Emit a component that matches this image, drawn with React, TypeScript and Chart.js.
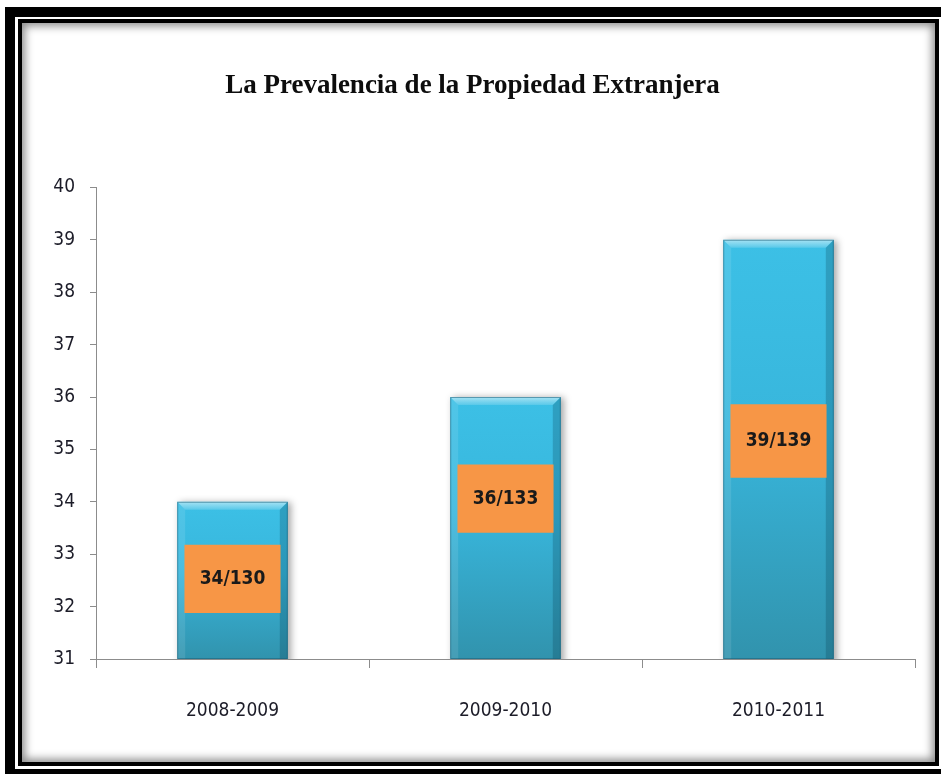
import React, { useEffect, useRef } from "react";
import { Chart, registerables } from "chart.js";

Chart.register(...registerables);

const categories = ["2008-2009", "2009-2010", "2010-2011"];
const prevalence = [34, 36, 39];
const labelTexts = ["34/130", "36/133", "39/139"];
const labelBoxes: [number, number][] = [
  [31.88, 33.18],
  [33.41, 34.71],
  [34.46, 35.86],
];
const yTicks = [31, 32, 33, 34, 35, 36, 37, 38, 39, 40];

const TITLE = "La Prevalencia de la Propiedad Extranjera";
const SANS = "'Liberation Sans Narrow', 'DejaVu Sans Condensed', 'Open Sans', sans-serif";
const SERIF = "'Liberation Serif', serif";

const shadowBevel = {
  id: "shadowBevel",
  beforeDatasetDraw(chart: any, args: any) {
    if (args.index !== 0) return;
    const ctx = chart.ctx;
    ctx.save();
    ctx.shadowColor = "rgba(0,0,0,0.35)";
    ctx.shadowBlur = 7;
    ctx.shadowOffsetX = 3;
    ctx.shadowOffsetY = 0;
  },
  afterDatasetDraw(chart: any, args: any) {
    if (args.index !== 0) return;
    const ctx = chart.ctx;
    ctx.restore();
    const area = chart.chartArea;
    const meta = chart.getDatasetMeta(0);
    meta.data.forEach((el: any) => {
      const w = el.width;
      const l = el.x - w / 2;
      const r = el.x + w / 2;
      const t = el.y;
      const b = Math.min(el.base, area.bottom);
      if (![l, r, t, b].every(Number.isFinite)) return;
      const bv = 8;
      ctx.save();
      const g = ctx.createLinearGradient(0, t, 0, t + bv);
      g.addColorStop(0, "rgba(255,255,255,0.55)");
      g.addColorStop(1, "rgba(255,255,255,0.15)");
      ctx.fillStyle = g;
      ctx.beginPath();
      ctx.moveTo(l, t);
      ctx.lineTo(r, t);
      ctx.lineTo(r - bv, t + bv);
      ctx.lineTo(l + bv, t + bv);
      ctx.closePath();
      ctx.fill();
      ctx.fillStyle = "rgba(255,255,255,0.10)";
      ctx.beginPath();
      ctx.moveTo(l, t);
      ctx.lineTo(l + bv, t + bv);
      ctx.lineTo(l + bv, b);
      ctx.lineTo(l, b);
      ctx.closePath();
      ctx.fill();
      ctx.fillStyle = "rgba(0,45,65,0.22)";
      ctx.beginPath();
      ctx.moveTo(r, t);
      ctx.lineTo(r - bv, t + bv);
      ctx.lineTo(r - bv, b);
      ctx.lineTo(r, b);
      ctx.closePath();
      ctx.fill();
      ctx.strokeStyle = "rgba(25,95,120,0.55)";
      ctx.lineWidth = 1;
      ctx.strokeRect(l + 0.5, t + 0.5, w - 1, b - t - 1);
      ctx.restore();
    });
  },
  afterDatasetsDraw(chart: any) {
    const ctx = chart.ctx;
    const meta = chart.getDatasetMeta(1);
    ctx.save();
    ctx.font = `bold 19px ${SANS}`;
    ctx.fillStyle = "#1a1a1a";
    ctx.textAlign = "center";
    ctx.textBaseline = "middle";
    meta.data.forEach((el: any, i: number) => {
      ctx.fillText(labelTexts[i], el.x, (el.y + el.base) / 2);
    });
    ctx.restore();
  },
};

export default function App() {
  const ref = useRef<HTMLCanvasElement | null>(null);

  useEffect(() => {
    if (!ref.current) return;
    const chart = new Chart(ref.current, {
      type: "bar",
      data: {
        labels: categories,
        datasets: [
          {
            label: "Prevalencia",
            data: prevalence,
            order: 2,
            grouped: false,
            barPercentage: 0.405,
            categoryPercentage: 1,
            backgroundColor: (c: any) => {
              const chartRef = c.chart;
              const ys = chartRef.scales && chartRef.scales.y;
              if (!ys || !c.parsed || c.parsed.y == null) return "#38b4d8";
              const top = ys.getPixelForValue(c.parsed.y);
              const bottom = ys.getPixelForValue(ys.min);
              if (!Number.isFinite(top) || !Number.isFinite(bottom) || top === bottom) return "#38b4d8";
              const g = chartRef.ctx.createLinearGradient(0, top, 0, bottom);
              g.addColorStop(0, "#3cc0e6");
              g.addColorStop(0.45, "#38b6dc");
              g.addColorStop(1, "#3193ad");
              return g;
            },
            borderWidth: 0,
          } as any,
          {
            label: "Etiquetas",
            data: labelBoxes as any,
            order: 1,
            grouped: false,
            barPercentage: 0.352,
            categoryPercentage: 1,
            backgroundColor: "#f79646",
            borderWidth: 0,
          } as any,
        ],
      },
      options: {
        animation: false,
        responsive: false,
        maintainAspectRatio: false,
        layout: { padding: { left: 30, right: 26, top: 0, bottom: 35 } },
        plugins: {
          legend: { display: false },
          tooltip: { enabled: false },
          title: {
            display: true,
            text: TITLE,
            color: "#0d0d0d",
            font: { family: SERIF, size: 27, weight: "bold", lineHeight: 1.2 },
            padding: { top: 70, bottom: 85 },
          },
        },
        scales: {
          x: {
            grid: {
              display: true,
              drawOnChartArea: false,
              drawTicks: true,
              tickLength: 9,
              color: "#8c8c8c",
              offset: true,
            },
            border: { display: true, color: "#8c8c8c", width: 1 },
            ticks: {
              color: "#1c1c28",
              padding: 32,
              font: { family: SANS, size: 19 },
            },
            afterFit: (s: any) => {
              s.height = 80;
            },
          },
          y: {
            min: yTicks[0],
            max: yTicks[yTicks.length - 1],
            grid: {
              display: true,
              drawOnChartArea: false,
              drawTicks: true,
              tickLength: 6,
              color: "#8c8c8c",
            },
            border: { display: true, color: "#8c8c8c", width: 1 },
            ticks: {
              stepSize: 1,
              color: "#1c1c28",
              padding: 15,
              font: { family: SANS, size: 19 },
            },
            afterFit: (s: any) => {
              s.width = 66;
            },
          },
        },
      },
      plugins: [shadowBevel],
    });
    return () => chart.destroy();
  }, []);

  return (
    <div
      style={{
        position: "absolute",
        left: 0,
        top: 0,
        width: 941,
        height: 774,
        overflow: "hidden",
        background: "#ffffff",
      }}
    >
      <div
        style={{
          position: "absolute",
          left: 5,
          top: 7,
          width: 960,
          height: 790,
          boxSizing: "border-box",
          border: "10px solid #000",
          borderBottomWidth: 0,
          background: "#fff",
        }}
      />
      <div
        style={{
          position: "absolute",
          left: 5,
          top: 769,
          width: 960,
          height: 10,
          background: "#000",
        }}
      />
      <div
        style={{
          position: "absolute",
          left: 18,
          top: 19,
          width: 921,
          height: 747,
          boxSizing: "border-box",
          border: "4px solid #000",
          background: "#fff",
          boxShadow: "inset 0 0 9px 3px rgba(0,0,0,0.45)",
        }}
      />
      <canvas
        ref={ref}
        width={941}
        height={774}
        style={{ position: "absolute", left: 0, top: 0, width: 941, height: 774 }}
      />
    </div>
  );
}
